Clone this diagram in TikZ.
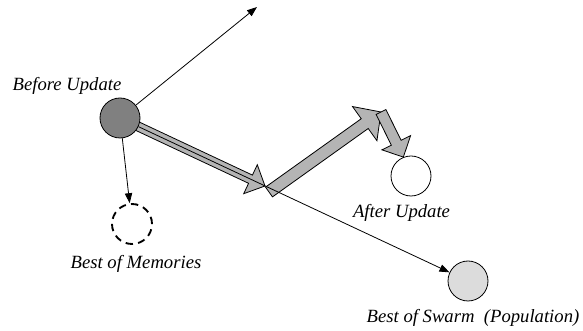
\documentclass[tikz,border=0pt]{standalone}
\usepackage{fontspec}
\setmainfont{Liberation Serif}
\usepackage{tikz}
\usetikzlibrary{arrows.meta,positioning,calc,backgrounds}
\definecolor{psoDark}{HTML}{808080}
\definecolor{psoLight}{HTML}{DCDCDC}
\definecolor{psoArrow}{HTML}{B4B4B4}

\tikzset{
  particle/.style={circle,draw,line width=0.6pt,minimum size=30pt,inner sep=0pt},
  lbl/.style={font=\fontsize{14}{17}\selectfont\itshape,inner sep=0pt,anchor=base},
  velarrow/.style={line width=0.6pt,-{Triangle[length=7.5pt,width=5.5pt]}},
  fatarrow/.style={draw=black,fill=psoArrow,line width=0.6pt,line join=miter},
}

% fat block arrow: from, to, shaft half width, head half width, head length
\newcommand{\fatarrow}[5]{%
  \coordinate (fa-b) at ($(#2)!#5!(#1)$);
  \filldraw[fatarrow] ($(#1)!#3!90:(#2)$) -- ($(fa-b)!#3!-90:(#1)$)
    -- ($(fa-b)!#4!-90:(#1)$) -- (#2) -- ($(fa-b)!#4!90:(#1)$)
    -- ($(fa-b)!#3!90:(#1)$) -- ($(#1)!#3!-90:(#2)$) -- cycle;}

\begin{document}
\begin{tikzpicture}[x=0.75pt,y=-0.75pt]
  \useasboundingbox (0,0) rectangle (583,331);

  % particles
  \node[particle,fill=psoDark] (before) at (120,118) {};
  \node[particle,line width=1.4pt,dash pattern=on 5.5pt off 3.9pt] (memories) at (132,224) {};
  \node[particle,fill=white] (after) at (411,176) {};
  \node[particle,fill=psoLight] (swarm) at (468,281) {};

  % labels
  \node[lbl] (beforelbl) at (67,91) {Before Update};
  \node[lbl] (memorieslbl) at (136,269) {Best of Memories};
  \node[lbl] (afterlbl) at (401.5,218) {After Update};
  \node[lbl] (swarmlbl) at (473,323) {Best of Swarm\ \ (Population)};

  \coordinate (vtip) at (257,7);
  \coordinate (turn1) at (265,186);
  \coordinate (base2) at (269,192);
  \coordinate (turn2) at (381,112);
  \coordinate (end3) at (after.112);

  \begin{scope}[on background layer]
    \fatarrow{before}{turn1}{3.4pt}{12pt}{12pt}
    \fatarrow{base2}{turn2}{4.5pt}{15.75pt}{15pt}
    \fatarrow{turn2}{end3}{4.1pt}{12pt}{12pt}
    \draw[velarrow] (before) -- (swarm);
  \end{scope}
  \draw[velarrow] (before) -- (vtip);
  \draw[velarrow] (before) -- (memories);
\end{tikzpicture}
\end{document}
